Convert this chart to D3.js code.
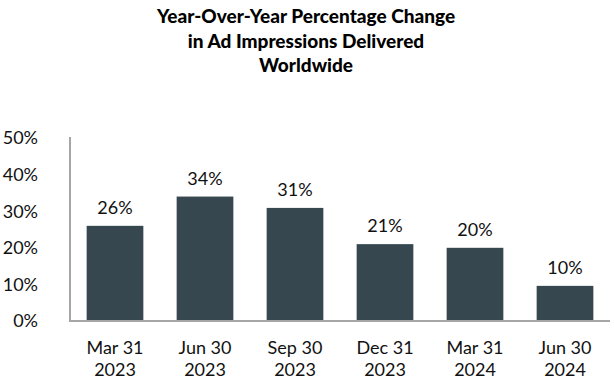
<!DOCTYPE html>
<html>
<head>
<meta charset="utf-8">
<script src="https://cdn.jsdelivr.net/npm/d3@7"></script>
<style>
  body { margin: 0; background: #fff; }
  text { font-family: Lato, "Open Sans", sans-serif; fill: #111; }
</style>
</head>
<body>
<div id="chart"></div>
<script>
// quarter labels (two lines each) and yoy change in %
var quarters = ["Mar 31", "Jun 30", "Sep 30", "Dec 31", "Mar 31", "Jun 30"];
var years = ["2023", "2023", "2023", "2023", "2024", "2024"];
var changes = [26, 34, 30.9, 21, 20, 9.6];
var labels = ["26%", "34%", "31%", "21%", "20%", "10%"];
var yTicks = [0, 10, 20, 30, 40, 50];
var titleLines = ["Year-Over-Year Percentage Change", "in Ad Impressions Delivered", "Worldwide"];

var W = 614, H = 384;
var margin = {top: 138, right: 4, bottom: 63, left: 70};

var svg = d3.select("#chart").append("svg")
    .attr("width", W)
    .attr("height", H);

var x = d3.scaleBand()
    .domain(d3.range(changes.length))
    .range([margin.left, W - margin.right])
    .paddingInner(0.37)
    .paddingOuter(0.185);

var y = d3.scaleLinear()
    .domain([0, 50])
    .range([H - margin.bottom, margin.top]);

// title
svg.append("g").selectAll("text")
    .data(titleLines)
    .enter().append("text")
    .attr("x", 306)
    .attr("y", function(d, i) { return 23 + i * 24.5; })
    .attr("text-anchor", "middle")
    .style("font-size", "19px")
    .style("font-weight", "900")
    .style("fill", "#000")
    .text(function(d) { return d; });

// y tick labels (no tick marks)
svg.append("g").selectAll("text")
    .data(yTicks)
    .enter().append("text")
    .attr("x", 38)
    .attr("y", function(d) { return y(d); })
    .attr("dy", "0.35em")
    .attr("text-anchor", "end")
    .style("font-size", "18px")
    .text(function(d) { return d + "%"; });

// bars
svg.append("g").selectAll("rect")
    .data(changes)
    .enter().append("rect")
    .attr("x", function(d, i) { return x(i); })
    .attr("y", function(d) { return y(d); })
    .attr("width", x.bandwidth())
    .attr("height", function(d) { return y(0) - y(d); })
    .style("fill", "#36474f");

// value labels
svg.append("g").selectAll("text")
    .data(changes)
    .enter().append("text")
    .attr("x", function(d, i) { return x(i) + x.bandwidth() / 2; })
    .attr("y", function(d) { return y(d) - 12; })
    .attr("text-anchor", "middle")
    .style("font-size", "18px")
    .text(function(d, i) { return labels[i]; });

// axis lines
svg.append("line")
    .attr("x1", margin.left).attr("x2", margin.left)
    .attr("y1", y(50) - 1).attr("y2", y(0))
    .style("stroke", "#a6a6a6").style("stroke-width", 2);
svg.append("line")
    .attr("x1", margin.left - 1).attr("x2", W - margin.right)
    .attr("y1", y(0)).attr("y2", y(0))
    .style("stroke", "#a6a6a6").style("stroke-width", 2);

// x labels
var xl = svg.append("g").selectAll("text")
    .data(quarters)
    .enter().append("text")
    .attr("text-anchor", "middle")
    .attr("transform", function(d, i) { return "translate(" + (x(i) + x.bandwidth() / 2) + ",354)"; })
    .style("font-size", "18px");
xl.append("tspan").attr("x", 0).attr("y", 0).text(function(d) { return d; });
xl.append("tspan").attr("x", 0).attr("y", 22).text(function(d, i) { return years[i]; });
</script>
</body>
</html>
